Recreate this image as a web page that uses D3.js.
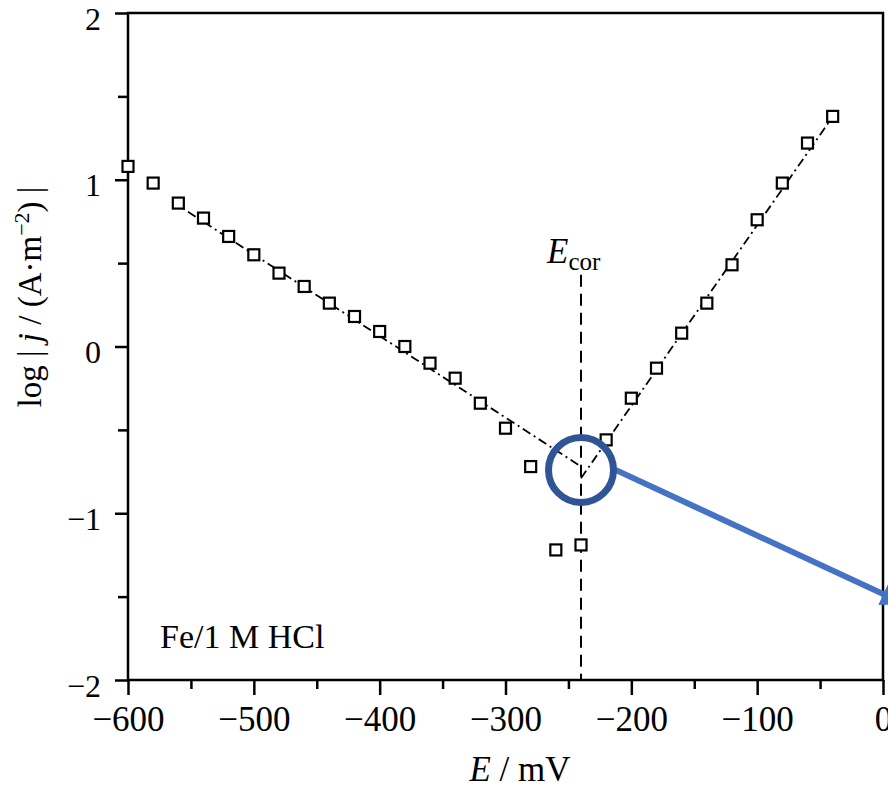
<!DOCTYPE html>
<html>
<head>
<meta charset="utf-8">
<script src="https://cdn.jsdelivr.net/npm/d3@7"></script>
<style>
  body { margin: 0; background: #fff; }
  svg { display: block; font-family: "Liberation Serif", "DejaVu Serif", serif; }
</style>
</head>
<body>
<svg width="888" height="789"></svg>
<script>
//	DATA

var potential = [-600, -580, -560, -540, -520, -500, -480, -460, -440, -420,
	-400, -380, -360, -340, -320, -300, -280, -260, -240, -220,
	-200, -180, -160, -140, -120, -100, -80, -60, -40];
var logJ = [1.08, 0.98, 0.86, 0.77, 0.66, 0.55, 0.44, 0.36, 0.26, 0.18,
	0.09, 0.00, -0.10, -0.19, -0.34, -0.49, -0.72, -1.22, -1.19, -0.56,
	-0.31, -0.13, 0.08, 0.26, 0.49, 0.76, 0.98, 1.22, 1.38];

// Tafel lines (end points)
var cathodicE = [-565, -242], cathodicLog = [0.87, -0.71];
var anodicE = [-240, -38], anodicLog = [-0.79, 1.40];

var eCor = -240, eCorTop = 0.43;

var xMajor = [-600, -500, -400, -300, -200, -100, 0],
	xMinor = [-550, -450, -350, -250, -150, -50],
	yMajor = [-2, -1, 0, 1, 2],
	yMinor = [-1.5, -0.5, 0.5, 1.5];

//	CHART

var svg = d3.select("svg"),
	mLeft = 128, mRight = 883, mTop = 13, mBottom = 680;

var x = d3.scaleLinear().domain([-600, 0]).range([mLeft, mRight]),
	y = d3.scaleLinear().domain([-2, 2]).range([mBottom, mTop]);

var minus = function(d) { return d < 0 ? "\u2212" + Math.abs(d) : String(d); };

// x axis, major and minor ticks
var gx = svg.append("g").attr("transform", "translate(0," + mBottom + ")")
	.call(d3.axisBottom(x).tickValues(xMajor).tickSize(15).tickPadding(11).tickFormat(minus));
svg.append("g").attr("transform", "translate(0," + mBottom + ")")
	.call(d3.axisBottom(x).tickValues(xMinor).tickSize(9).tickFormat(""));

// y axis
var gy = svg.append("g").attr("transform", "translate(" + mLeft + ",0)")
	.call(d3.axisLeft(y).tickValues(yMajor).tickSize(13).tickPadding(14).tickFormat(minus));
svg.append("g").attr("transform", "translate(" + mLeft + ",0)")
	.call(d3.axisLeft(y).tickValues(yMinor).tickSize(10).tickFormat(""));

svg.selectAll(".domain").remove();
svg.selectAll(".tick line").attr("stroke", "#000").attr("stroke-width", 2.5);
svg.selectAll(".tick text").attr("fill", "#000").attr("font-family", "Liberation Serif");
gx.selectAll(".tick text").attr("font-size", 35);
gy.selectAll(".tick text").attr("font-size", 32).attr("dy", "0.5em");

// frame
svg.append("rect")
	.attr("x", mLeft).attr("y", mTop)
	.attr("width", mRight - mLeft).attr("height", mBottom - mTop)
	.attr("fill", "none").attr("stroke", "#000").attr("stroke-width", 2.5);

// E_cor marker
svg.append("line")
	.attr("x1", x(eCor)).attr("x2", x(eCor))
	.attr("y1", y(eCorTop)).attr("y2", y(-2))
	.attr("stroke", "#000").attr("stroke-width", 2)
	.attr("stroke-dasharray", "12,7");

var line = d3.line()
	.x(function(d) { return x(d[0]); })
	.y(function(d) { return y(d[1]); });

svg.append("path")
	.datum(d3.zip(cathodicE, cathodicLog))
	.attr("d", line).attr("fill", "none")
	.attr("stroke", "#000").attr("stroke-width", 1.8)
	.attr("stroke-dasharray", "9,4,2,4");
svg.append("path")
	.datum(d3.zip(anodicE, anodicLog))
	.attr("d", line).attr("fill", "none")
	.attr("stroke", "#000").attr("stroke-width", 1.8)
	.attr("stroke-dasharray", "9,4,2,4");

// data points, open squares
var s = 11;
svg.append("g").selectAll("rect")
	.data(d3.zip(potential, logJ))
	.join("rect")
	.attr("x", function(d) { return x(d[0]) - s / 2; })
	.attr("y", function(d) { return y(d[1]) - s / 2; })
	.attr("width", s).attr("height", s)
	.attr("fill", "#fff").attr("stroke", "#000").attr("stroke-width", 2.2);

// texts
svg.append("text")
	.attr("x", x(eCor) - 34).attr("y", y(eCorTop) - 12)
	.attr("font-size", 35)
	.call(function(t) {
		t.append("tspan").attr("font-style", "italic").text("E");
		t.append("tspan").attr("font-size", 25).attr("dy", 7).text("cor");
	});

svg.append("text")
	.attr("x", 160).attr("y", 648)
	.attr("font-size", 34)
	.text("Fe/1 M HCl");

svg.append("text")
	.attr("x", 520).attr("y", 781)
	.attr("text-anchor", "middle")
	.attr("font-size", 35)
	.call(function(t) {
		t.append("tspan").attr("font-style", "italic").text("E");
		t.append("tspan").text(" / mV");
	});

svg.append("text")
	.attr("transform", "translate(41,297) rotate(-90)")
	.attr("text-anchor", "middle")
	.attr("font-size", 33)
	.call(function(t) {
		t.append("tspan").text("log | ");
		t.append("tspan").attr("font-style", "italic").text("j");
		t.append("tspan").text(" / (A\u00b7m");
		t.append("tspan").attr("font-size", 22).attr("dy", -12).text("\u22122");
		t.append("tspan").attr("dy", 12).text(") |");
	});

// annotation: circle round the intersection, with an arrow out of the frame
var cx = x(eCor), cy = y(-0.74), r = 32.5,
	ang = Math.atan2(127, 274),
	ax = cx + r + 2, ay = cy, len = 312;
var defs = svg.append("defs");
defs.append("marker")
	.attr("id", "head").attr("viewBox", "0 0 10 10")
	.attr("refX", 7).attr("refY", 5)
	.attr("markerWidth", 4).attr("markerHeight", 4)
	.attr("orient", "auto")
	.append("path").attr("d", "M0,0L10,5L0,10Z").attr("fill", "#4472C4");

svg.append("line")
	.attr("x1", ax).attr("y1", ay)
	.attr("x2", ax + len * Math.cos(ang)).attr("y2", ay + len * Math.sin(ang))
	.attr("stroke", "#4472C4").attr("stroke-width", 6)
	.attr("marker-end", "url(#head)");

svg.append("circle")
	.attr("cx", cx).attr("cy", cy).attr("r", r)
	.attr("fill", "none").attr("stroke", "#2F5597").attr("stroke-width", 7);
</script>
</body>
</html>
